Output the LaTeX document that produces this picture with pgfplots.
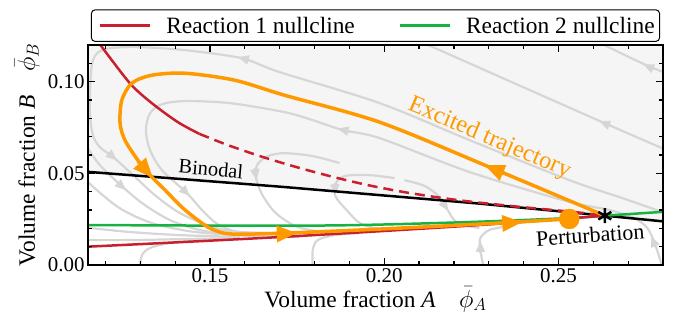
\documentclass[border=0pt]{standalone}
\usepackage{fontspec}
\setmainfont{Liberation Serif}
\usepackage{pgfplots}
\pgfplotsset{compat=1.18}
\usetikzlibrary{arrows.meta}
\definecolor{cred}{RGB}{200,32,44}
\definecolor{cgreen}{RGB}{22,178,66}
\definecolor{corange}{RGB}{255,153,0}
\definecolor{cgray}{RGB}{214,214,214}
\definecolor{cfill}{RGB}{245,245,245}
\tikzset{gline/.style={cgray, line width=2.2bp, smooth, tension=0.5},
  garr/.style={cgray, line width=2.2bp, -{Triangle[length=11bp,width=9bp]}},
  oarr/.style={corange, line width=3.5bp, -{Triangle[length=20bp,width=16bp]}}}
\begin{document}
\begin{tikzpicture}
\begin{axis}[
  scale only axis, width=575bp, height=220bp,
  xmin=0.115, xmax=0.28, ymin=0, ymax=0.12,
  xtick={0.15,0.2,0.25}, ytick={0,0.05,0.1},
  minor xtick={0.12,0.13,0.14,0.16,0.17,0.18,0.19,0.21,0.22,0.23,0.24,0.26,0.27},
  minor ytick={0.01,0.02,0.03,0.04,0.06,0.07,0.08,0.09,0.11},
  tick align=inside, xtick pos=both, ytick pos=both,
  major tick length=7bp, minor tick length=4bp,
  every tick/.style={black, line width=1.2bp},
  axis line style={line width=1.5bp},
  /pgf/number format/assume math mode=true,
  tick label style={font=\fontsize{21}{25}\selectfont},
  x tick label style={/pgf/number format/.cd, fixed, fixed zerofill, precision=2, /tikz/.cd},
  y tick label style={/pgf/number format/.cd, fixed, fixed zerofill, precision=2, /tikz/.cd},
  axis on top,
  legend style={at={(axis description cs:0.5,1)}, anchor=south, yshift=3bp,
    draw=black, line width=1bp, rounded corners=4bp,
    font=\fontsize{23.5}{28}\selectfont, inner xsep=5bp, inner ysep=7bp,
    nodes={inner sep=0pt},
    /tikz/every even column/.append style={column sep=44bp}},
  legend columns=2, legend cell align=left,
]
\addlegendimage{legend image code/.code={\path[draw=none] (0bp,0bp) -- (70bp,0bp); \draw[cred, line width=2.5bp] (4bp,0bp) -- (54bp,0bp);}}
\addlegendentry{Reaction 1 nullcline}
\addlegendimage{legend image code/.code={\path[draw=none] (0bp,0bp) -- (66bp,0bp); \draw[cgreen, line width=2.5bp] (0bp,0bp) -- (50bp,0bp);}}
\addlegendentry{Reaction 2 nullcline\hspace{5bp}}

% two-phase region above the binodal
\addplot[fill=cfill, draw=none, forget plot] coordinates {(0.115,0.0508) (0.1703,0.0427) (0.2267,0.0336) (0.2633,0.0269) (0.28,0.0238) (0.28,0.12) (0.115,0.12)} -- cycle;

% streamlines
\addplot[gline, forget plot] coordinates {(0.283,0.0611) (0.2626,0.0779) (0.2095,0.1226)};
\addplot[gline, forget plot] coordinates {(0.283,0.1032) (0.2752,0.1090) (0.2620,0.1210)};
\addplot[gline, forget plot] coordinates {(0.2798,0.0289) (0.2674,0.0371) (0.2531,0.0463) (0.2245,0.0681) (0.1987,0.0883) (0.1700,0.1052) (0.1591,0.1128) (0.1428,0.1172) (0.1299,0.1188) (0.1213,0.1183) (0.1176,0.1155) (0.1161,0.1090) (0.1156,0.0954) (0.1156,0.0817) (0.1164,0.0708) (0.1184,0.0643) (0.1222,0.0589) (0.1270,0.0507) (0.1342,0.0381) (0.1414,0.0283) (0.1500,0.0213) (0.1586,0.0180) (0.1843,0.0169)};
\addplot[gline, forget plot] coordinates {(0.2798,-0.001) (0.2778,0.0109) (0.2755,0.0202) (0.2717,0.0256) (0.2646,0.0300) (0.2522,0.0349) (0.2245,0.0507) (0.1987,0.0692) (0.1881,0.0736) (0.1795,0.0790) (0.1714,0.0834) (0.1557,0.0883) (0.1428,0.0894) (0.1362,0.0877) (0.1328,0.0828) (0.1316,0.0736) (0.1328,0.0627) (0.1362,0.0518) (0.1434,0.0392) (0.1477,0.0300) (0.1522,0.0223) (0.1586,0.0180) (0.1757,0.0163)};
\addplot[gline, forget plot] coordinates {(0.1872,0.0556) (0.1795,0.0594) (0.1714,0.0610) (0.1666,0.0594) (0.1637,0.0550) (0.1631,0.0485) (0.1649,0.0387) (0.1689,0.0283) (0.1752,0.0207) (0.1843,0.0174)};
\addplot[gline, forget plot] coordinates {(0.2030,0.0474) (0.1958,0.0490) (0.1886,0.0485) (0.1858,0.0436) (0.1861,0.0371) (0.1892,0.0300) (0.1935,0.0223) (0.2015,0.0185)};
\addplot[gline, forget plot] coordinates {(0.2058,0.0463) (0.2116,0.0431) (0.2159,0.0371) (0.2182,0.0300) (0.2210,0.0229) (0.2273,0.0202)};
\addplot[gline, forget plot] coordinates {(0.1299,-0.001) (0.1305,0.0054) (0.1328,0.0093) (0.1385,0.0120) (0.1471,0.0136)};
\addplot[gline, forget plot] coordinates {(0.1795,-0.001) (0.1795,0.0082) (0.1809,0.0136) (0.1858,0.0163) (0.1929,0.0174)};
\addplot[gline, forget plot] coordinates {(0.2285,-0.001) (0.2276,0.0082) (0.2276,0.0147) (0.2302,0.0191) (0.2359,0.0213)};
\addplot[gline, forget plot] coordinates {(0.1145,0.0650) (0.1184,0.0545) (0.1250,0.0425) (0.1313,0.0327) (0.1391,0.0240) (0.1485,0.0185) (0.1614,0.0158) (0.1757,0.0153)};
\addplot[gline, forget plot] coordinates {(0.1145,0.0460) (0.1236,0.0316) (0.1333,0.0229) (0.1457,0.0180) (0.1614,0.0160)};
\addplot[gline, forget plot] coordinates {(0.1145,0.0204) (0.1270,0.0180) (0.1414,0.0163) (0.1586,0.0153)};
\addplot[gline, forget plot] coordinates {(0.1145,0.0136) (0.1270,0.0136) (0.1442,0.0142) (0.1586,0.0147)};
% streamline arrow heads
\addplot[garr, forget plot] coordinates {(0.2649,0.0760) (0.2617,0.0785)};
\addplot[garr, forget plot] coordinates {(0.2775,0.1068) (0.2743,0.1095)};
\addplot[garr, forget plot] coordinates {(0.1614,0.1117) (0.1580,0.1134)};
\addplot[garr, forget plot] coordinates {(0.1207,0.0613) (0.1233,0.0572)};
\addplot[garr, forget plot] coordinates {(0.2779,0.0098) (0.2766,0.0158)};
\addplot[garr, forget plot] coordinates {(0.1901,0.0728) (0.1866,0.0744)};
\addplot[garr, forget plot] coordinates {(0.1418,0.0422) (0.1442,0.0376)};
\addplot[garr, forget plot] coordinates {(0.1628,0.0529) (0.1634,0.0463)};
\addplot[garr, forget plot] coordinates {(0.1858,0.0447) (0.1861,0.0381)};
\addplot[garr, forget plot] coordinates {(0.2166,0.0349) (0.2184,0.0294)};
\addplot[garr, forget plot] coordinates {(0.2276,0.0065) (0.2276,0.0131)};
\addplot[garr, forget plot] coordinates {(0.1233,0.0452) (0.1259,0.0409)};

% binodal
\addplot[black, line width=2.5bp, forget plot] coordinates {(0.115,0.0508) (0.1703,0.0427) (0.2267,0.0336) (0.2633,0.0269) (0.28,0.0238)};
% reaction 2 nullcline
\addplot[cgreen, line width=2.5bp, smooth, forget plot] coordinates {(0.115,0.0218) (0.15,0.0215) (0.18,0.0215) (0.20,0.0221) (0.227,0.0236) (0.2531,0.0256) (0.2633,0.0269) (0.28,0.0290)};
% reaction 1 nullcline
\addplot[cred, line width=2.5bp, smooth, forget plot] coordinates {(0.115,0.0100) (0.1706,0.0153) (0.2273,0.0218) (0.2633,0.0269)};
\addplot[cred, line width=2.5bp, smooth, forget plot] coordinates {(0.1170,0.1240) (0.1184,0.1204) (0.1270,0.0992) (0.1333,0.0883) (0.1408,0.0779) (0.1470,0.0715)};
\addplot[cred, line width=2.5bp, smooth, dash pattern=on 10bp off 6bp, forget plot] coordinates {(0.1470,0.0715) (0.155,0.0655) (0.165,0.0590) (0.175,0.0533) (0.185,0.0482) (0.195,0.0437) (0.205,0.0400) (0.215,0.0370) (0.225,0.0345) (0.240,0.0315) (0.255,0.0288) (0.2633,0.0269)};

% excited trajectory
\addplot[corange, line width=3.5bp, smooth, tension=0.5, forget plot]
 coordinates {(0.2633,0.0269) (0.2302,0.0534) (0.1987,0.0779) (0.1714,0.0926) (0.1571,0.1008) (0.1428,0.1046) (0.1333,0.1035) (0.1276,0.0992) (0.1247,0.0899) (0.1242,0.0774) (0.1256,0.0681) (0.1293,0.0572) (0.1328,0.0490) (0.1371,0.0409) (0.1419,0.0316) (0.1465,0.0245) (0.1505,0.0196) (0.1563,0.0169) (0.1714,0.0174) (0.1987,0.0196) (0.2273,0.0223) (0.2531,0.0251)};
\addplot[oarr, forget plot] coordinates {(0.2345,0.0499) (0.2288,0.0545)};
\addplot[oarr, forget plot] coordinates {(0.1293,0.0567) (0.1336,0.0474)};
\addplot[oarr, forget plot] coordinates {(0.1686,0.0169) (0.1749,0.0174)};
\addplot[oarr, forget plot] coordinates {(0.2333,0.0226) (0.2396,0.0234)};

\addplot[only marks, mark=*, mark size=10bp, mark options={draw=corange, fill=corange}, forget plot] coordinates {(0.2531,0.0251)};
\addplot[only marks, mark=asterisk, mark size=7.5bp, mark options={black, line width=2.5bp}, forget plot] coordinates {(0.2633,0.0269)};

\node[rotate=-5, font=\fontsize{20.5}{24}\selectfont] at (axis cs:0.1503,0.0525) {Binodal};
\node[rotate=-23, text=corange, font=\fontsize{24.5}{29}\selectfont] at (axis cs:0.2302,0.0690) {Excited trajectory};
\node[rotate=4, font=\fontsize{22}{26}\selectfont] at (axis cs:0.2591,0.0163) {Perturbation};
\end{axis}
\node[anchor=base, font=\fontsize{23.5}{28}\selectfont] at ([yshift=-42bp]current axis.south) {Volume fraction \textit{A}\quad $\bar{\phi}_A$};
\node[anchor=base, rotate=90, font=\fontsize{23.5}{28}\selectfont] at ([xshift=-53bp]current axis.west) {Volume fraction \textit{B}\quad $\bar{\phi}_B$};
\pgfresetboundingbox
\path ([xshift=-88bp,yshift=-62bp]current axis.south west) rectangle ([xshift=30bp,yshift=45bp]current axis.north east);
\end{tikzpicture}
\end{document}
